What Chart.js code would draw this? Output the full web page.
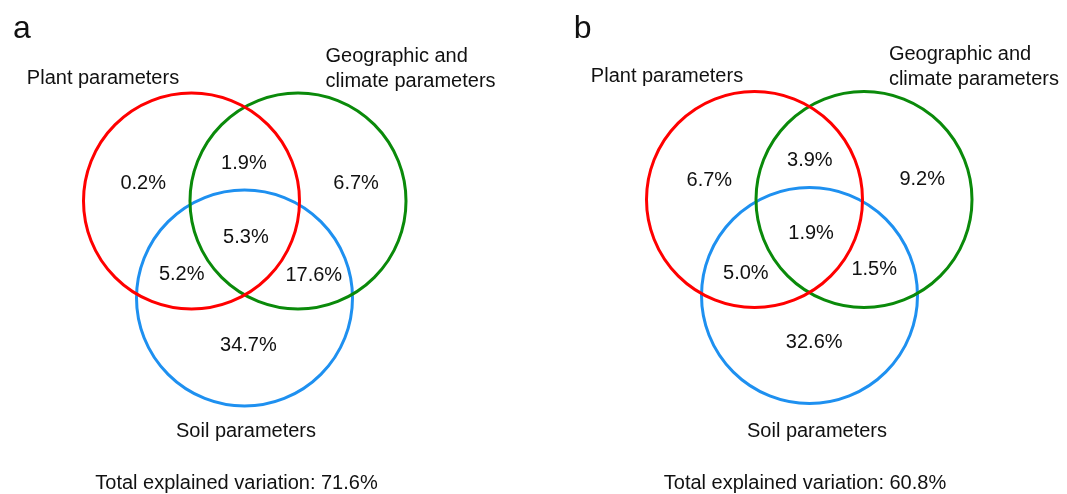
<!DOCTYPE html>
<html>
<head>
<meta charset="utf-8">
<script src="https://cdn.jsdelivr.net/npm/chart.js@4.4.1/dist/chart.umd.min.js"></script>
<style>
  html, body { margin: 0; padding: 0; background: #fff; }
  .wrap { display: flex; width: 1067px; height: 494px; }
  canvas { display: block; }
</style>
</head>
<body>
<div class="wrap">
  <canvas id="panelA" width="533" height="494"></canvas>
  <canvas id="panelB" width="534" height="494"></canvas>
</div>
<script>
// --- Data ---
const setNames = ['Plant parameters', ['Geographic and', 'climate parameters'], 'Soil parameters'];
// regions: plant only, plant∩geo, geo only, all three, plant∩soil, geo∩soil, soil only
const regionNames = ['Plant', 'Plant+Geo', 'Geo', 'All', 'Plant+Soil', 'Geo+Soil', 'Soil'];
const valuesA = [0.2, 1.9, 6.7, 5.3, 5.2, 17.6, 34.7];
const valuesB = [6.7, 3.9, 9.2, 1.9, 5.0, 1.5, 32.6];
const totalA = 71.6;
const totalB = 60.8;

// --- Layout (panel pixel units) ---
const circleColors = ['#ff0000', '#0a8a0a', '#1e90f0'];
const layoutA = {
  circles: [[191.5, 201, 108], [298, 201, 108], [244.5, 298, 108]],
  letter: [13, 29],
  plant: [103, 78],
  geo: [325.5, 56, 81],
  soil: [246, 431],
  total: [236.5, 483],
  regions: [[143.2, 183], [243.9, 163], [356.1, 183], [245.9, 237], [181.7, 274], [313.8, 275], [248.4, 345]]
};
const layoutB = {
  circles: [[221.5, 199.5, 108], [331, 199.5, 108], [276.5, 295.5, 108]],
  letter: [40.8, 29],
  plant: [134, 76],
  geo: [355.9, 54, 79],
  soil: [284, 431],
  total: [272, 483],
  regions: [[176.3, 180], [276.8, 160], [389.2, 179], [278.1, 233], [212.8, 273], [341.2, 269], [281.2, 342]]
};

const FONT = '"Liberation Sans", Arial, Helvetica, sans-serif';

// --- Text plugin: draws labels through the chart's own scales ---
const vennText = {
  id: 'vennText',
  afterDatasetsDraw(chart, args, opts) {
    const { ctx, scales: { x, y } } = chart;
    ctx.save();
    ctx.fillStyle = '#111';
    ctx.textBaseline = 'middle';
    opts.items.forEach(it => {
      ctx.font = `${it.size || 20}px ${FONT}`;
      ctx.textAlign = it.align || 'center';
      ctx.fillText(it.text, x.getPixelForValue(it.x), y.getPixelForValue(it.y));
    });
    ctx.restore();
  }
};

function buildItems(letter, values, total, lay) {
  const items = [];
  items.push({ text: letter, x: lay.letter[0], y: lay.letter[1], size: 32, align: 'left' });
  items.push({ text: setNames[0], x: lay.plant[0], y: lay.plant[1] });
  items.push({ text: setNames[1][0], x: lay.geo[0], y: lay.geo[1], align: 'left' });
  items.push({ text: setNames[1][1], x: lay.geo[0], y: lay.geo[2], align: 'left' });
  items.push({ text: setNames[2], x: lay.soil[0], y: lay.soil[1] });
  values.forEach((v, i) => {
    items.push({ text: v.toFixed(1) + '%', x: lay.regions[i][0], y: lay.regions[i][1] });
  });
  items.push({ text: 'Total explained variation: ' + total.toFixed(1) + '%', x: lay.total[0], y: lay.total[1] });
  return items;
}

function drawVenn(id, letter, values, total, lay) {
  const canvas = document.getElementById(id);
  const w = canvas.width, h = canvas.height;
  new Chart(canvas, {
    type: 'bubble',
    data: {
      datasets: lay.circles.map((c, i) => ({
        label: Array.isArray(setNames[i]) ? setNames[i].join(' ') : setNames[i],
        data: [{ x: c[0], y: c[1], r: c[2] }],
        backgroundColor: 'rgba(0,0,0,0)',
        borderColor: circleColors[i],
        borderWidth: 3,
        clip: false
      }))
    },
    options: {
      responsive: false,
      animation: false,
      devicePixelRatio: 1,
      events: [],
      layout: { padding: 0, autoPadding: false },
      plugins: {
        legend: { display: false },
        tooltip: { enabled: false },
        vennText: { items: buildItems(letter, values, total, lay) }
      },
      scales: {
        x: { type: 'linear', min: 0, max: w, display: false },
        y: { type: 'linear', min: 0, max: h, reverse: true, display: false }
      }
    },
    plugins: [vennText]
  });
}

drawVenn('panelA', 'a', valuesA, totalA, layoutA);
drawVenn('panelB', 'b', valuesB, totalB, layoutB);
</script>
</body>
</html>
